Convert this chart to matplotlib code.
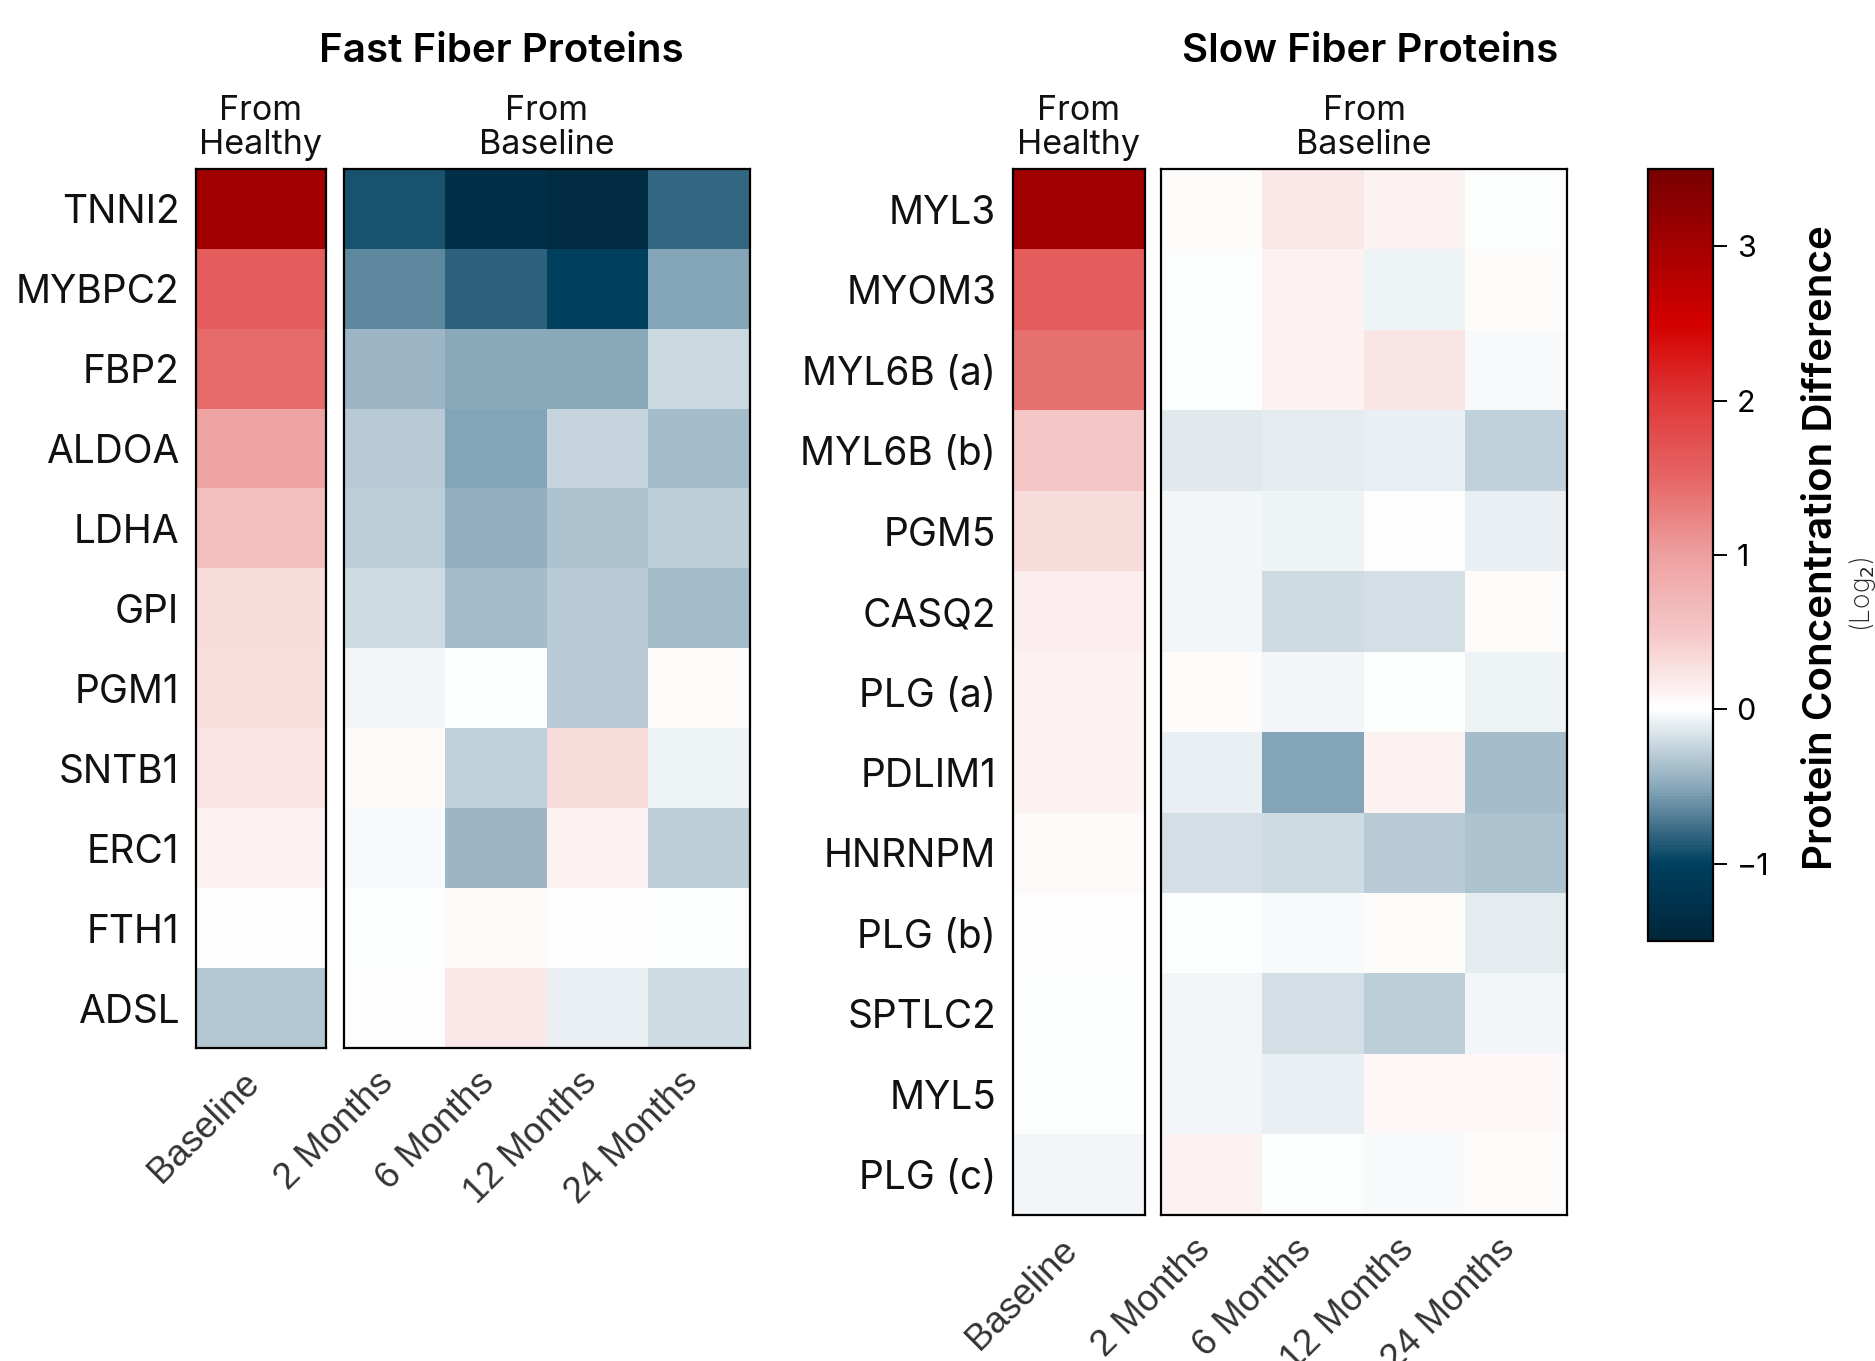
import numpy as np
import matplotlib
matplotlib.use("Agg")
import matplotlib.pyplot as plt
from matplotlib.colors import LinearSegmentedColormap

plt.rcParams['font.family'] = ['Inter', 'DejaVu Sans']

# ---- data (log2 differences) ----
timepoints = ["2 Months", "6 Months", "12 Months", "24 Months"]

fast_genes = ["TNNI2", "MYBPC2", "FBP2", "ALDOA", "LDHA", "GPI", "PGM1",
              "SNTB1", "ERC1", "FTH1", "ADSL"]
fast_healthy = [3.05, 1.6, 1.45, 0.95, 0.6, 0.3, 0.28, 0.25, 0.12, 0.01, -0.32]
fast_baseline = [
    [-0.9, -1.3, -1.4, -0.8],
    [-0.65, -0.82, -1.0, -0.52],
    [-0.42, -0.5, -0.5, -0.22],
    [-0.3, -0.52, -0.25, -0.38],
    [-0.28, -0.45, -0.33, -0.28],
    [-0.2, -0.38, -0.3, -0.38],
    [-0.05, 0.0, -0.3, 0.03],
    [0.05, -0.26, 0.3, -0.06],
    [-0.02, -0.42, 0.12, -0.28],
    [0.0, 0.05, 0.01, 0.0],
    [0.01, 0.2, -0.08, -0.2],
]

slow_genes = ["MYL3", "MYOM3", "MYL6B (a)", "MYL6B (b)", "PGM5", "CASQ2",
              "PLG (a)", "PDLIM1", "HNRNPM", "PLG (b)", "SPTLC2", "MYL5", "PLG (c)"]
slow_healthy = [3.05, 1.6, 1.4, 0.5, 0.3, 0.15, 0.12, 0.12, 0.06, 0.01, 0.0, 0.0, -0.04]
slow_baseline = [
    [0.03, 0.2, 0.12, 0.0],
    [0.0, 0.12, -0.06, 0.04],
    [0.0, 0.12, 0.22, -0.02],
    [-0.12, -0.1, -0.08, -0.26],
    [-0.04, -0.06, 0.01, -0.08],
    [-0.04, -0.2, -0.18, 0.03],
    [0.03, -0.04, 0.0, -0.06],
    [-0.08, -0.52, 0.12, -0.38],
    [-0.18, -0.2, -0.3, -0.33],
    [0.0, -0.02, 0.04, -0.1],
    [-0.05, -0.18, -0.28, -0.05],
    [-0.04, -0.08, 0.08, 0.07],
    [0.12, 0.0, -0.02, 0.04],
]

vmin, vmax = -1.5, 3.5
cmap_vals = [-1.5, -1.0, -0.5, 0.0, 0.5, 1.0, 1.5, 2.0, 2.5, 3.0, 3.5]
cmap_cols = ["#00263a", "#00405f", "#8aa9bb", "#ffffff", "#f5c6c6", "#eea0a0",
             "#e66666", "#e03838", "#d40000", "#a50000", "#780000"]
cmap = LinearSegmentedColormap.from_list(
    "rdbu_custom", [((v - vmin) / (vmax - vmin), c) for v, c in zip(cmap_vals, cmap_cols)])

W, H = 1875, 1361
fig = plt.figure(figsize=(W / 100, H / 100), dpi=100)


def px_axes(x0, y0, x1, y1):
    return fig.add_axes([x0 / W, 1 - y1 / H, (x1 - x0) / W, (y1 - y0) / H])


label_font = dict(fontsize=28, color="#111111")
tick_font = dict(fontsize=26.5, color="#333333", family="Liberation Sans")


def draw_block(ax, data, xlabels, ylabels=None):
    arr = np.array(data, dtype=float)
    if arr.ndim == 1:
        arr = arr[:, None]
    ax.imshow(arr, cmap=cmap, vmin=vmin, vmax=vmax, aspect="auto",
              interpolation="nearest")
    ax.set_xticks(range(len(xlabels)))
    ax.set_xticklabels(xlabels, rotation=45, ha="right", va="baseline",
                       rotation_mode="anchor", **tick_font)
    ax.tick_params(axis="x", length=0, pad=26)
    if ylabels is not None:
        ax.set_yticks(range(len(ylabels)))
        ax.set_yticklabels(ylabels, **label_font)
        ax.tick_params(axis="y", length=0, pad=12)
    else:
        ax.set_yticks([])
    for s in ax.spines.values():
        s.set_linewidth(1.6)
        s.set_color("black")


# fast fiber panel
ax1 = px_axes(196, 169, 326, 1048)
draw_block(ax1, fast_healthy, ["Baseline"], fast_genes)
ax2 = px_axes(344, 169, 750, 1048)
draw_block(ax2, fast_baseline, timepoints)

# slow fiber panel
ax3 = px_axes(1013, 169, 1145, 1215)
draw_block(ax3, slow_healthy, ["Baseline"], slow_genes)
ax4 = px_axes(1161, 169, 1567, 1215)
draw_block(ax4, slow_baseline, timepoints)

# titles and group headers
fig.text(501 / W, 1 - 51 / H, "Fast Fiber Proteins", ha="center", va="center",
         fontsize=29, fontweight="semibold")
fig.text(1370 / W, 1 - 51 / H, "Slow Fiber Proteins", ha="center", va="center",
         fontsize=29, fontweight="semibold")
for xc, txt in [(261, "From\nHealthy"), (547, "From\nBaseline"),
                (1079, "From\nHealthy"), (1364, "From\nBaseline")]:
    fig.text(xc / W, 1 - 128 / H, txt, ha="center", va="center", fontsize=24.5,
             linespacing=1.08, color="#111111")

# colorbar
cax = px_axes(1648, 169, 1713, 941)
sm = matplotlib.cm.ScalarMappable(cmap=cmap, norm=plt.Normalize(vmin, vmax))
cb = fig.colorbar(sm, cax=cax, ticks=[-1, 0, 1, 2, 3])
cb.outline.set_linewidth(1.6)
cb.ax.tick_params(length=10, width=1.4, pad=7, labelsize=22)
fig.text(1822 / W, 1 - 548 / H, "Protein Concentration Difference", rotation=90,
         ha="center", va="center", fontsize=29, fontweight="semibold")
fig.text(1862 / W, 1 - 594 / H, "(Log$_2$)", rotation=90, ha="center", va="center",
         fontsize=19, color="#222222", fontweight="light")

fig.savefig("out.png", dpi=100)
